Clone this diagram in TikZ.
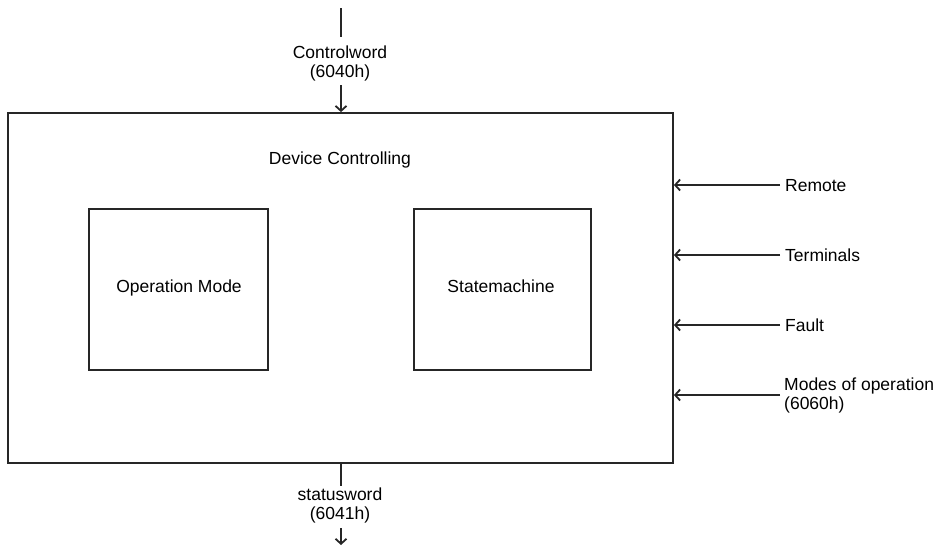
\documentclass[tikz,border=0pt]{standalone}
\usepackage{fontspec}
\setmainfont{Liberation Sans}
\usetikzlibrary{arrows.meta}
\begin{document}
\begin{tikzpicture}[x=1pt,y=-1pt,
  line/.style={line width=1.8pt,black!85},
  arr/.style={line,-{Straight Barb[length=5pt,width=11pt]}},
  lbl/.style={font=\fontsize{17.5}{19}\selectfont,align=center,inner sep=1pt},
  rlbl/.style={font=\fontsize{17.5}{19}\selectfont,align=left,anchor=west,inner sep=1pt}]
\useasboundingbox (0,0) rectangle (938,547);
\node[draw=black!85,line width=1.8pt,minimum width=665pt,minimum height=350pt,inner sep=0pt] (main) at (340.5,288) {};
\node[lbl,anchor=base] (title) at (340,164) {Device Controlling};
\node[draw=black!85,line width=1.8pt,minimum width=179pt,minimum height=161pt,inner sep=0pt] (op) at (178.5,289.5) {};
\node[lbl,anchor=base] (opt) at (179,292) {Operation Mode};
\node[draw=black!85,line width=1.8pt,minimum width=177pt,minimum height=161pt,inner sep=0pt] (sm) at (502.5,289.5) {};
\node[lbl,anchor=base] (smt) at (501,292) {Statemachine};
% top
\coordinate (t0) at (341,8);
\coordinate (t1) at (341,37);
\node[lbl] (cw) at (340,63.5) {Controlword\\(6040h)};
\draw[line] (t0) -- (t1);
\coordinate (t2) at (341,85);
\draw[arr] (t2) -- (t2 |- main.north);
% bottom
\node[lbl] (sw) at (340,505.5) {statusword\\(6041h)};
\coordinate (b0) at (341,486);
\draw[line] (main.south -| b0) -- (b0);
\coordinate (b1) at (341,528);
\coordinate (b2) at (341,545);
\draw[arr] (b1) -- (b2);
% right inputs
\foreach \y/\t/\n in {185/Remote/r1,255/Terminals/r2,325/Fault/r3}{
  \node[rlbl,anchor=base west] (\n) at (784,\y+6) {\t};
  \coordinate (\n a) at (780,\y);
  \draw[arr] (\n a) -- (main.east |- \n a);
}
\node[rlbl] (r4) at (783,395.5) {Modes of operation\\(6060h)};
\coordinate (r4a) at (780,395);
\draw[arr] (r4a) -- (main.east |- r4a);
\end{tikzpicture}
\end{document}
